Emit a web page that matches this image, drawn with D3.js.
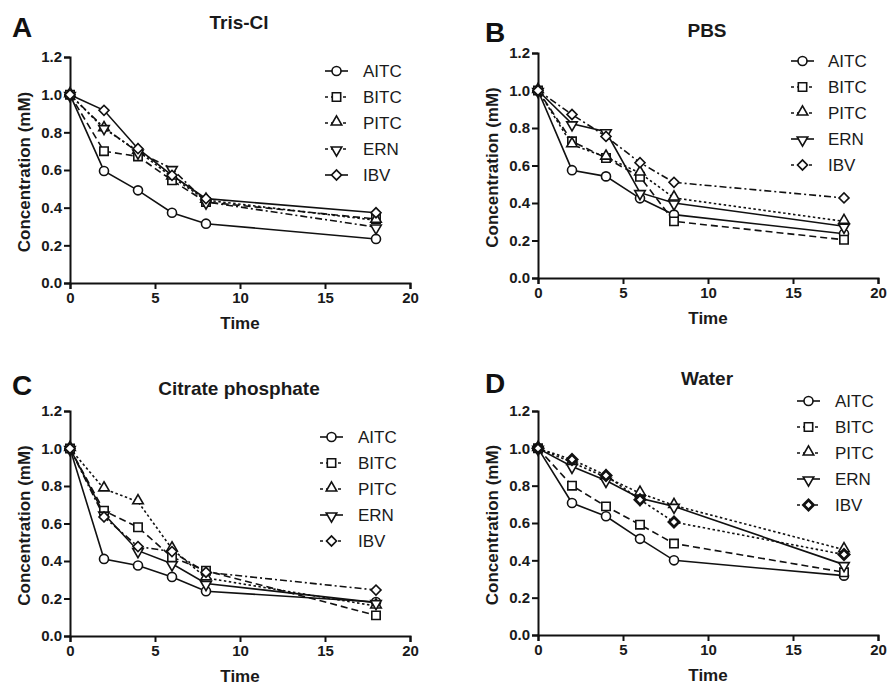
<!DOCTYPE html>
<html>
<head>
<meta charset="utf-8">
<script src="https://cdn.jsdelivr.net/npm/d3@7"></script>
<style>
  body { margin: 0; background: #fff; }
  svg { font-family: "Liberation Sans", Arial, sans-serif; }
</style>
</head>
<body>
<div class="chart"></div>
<script>
// time points (same for every panel)
var times = [0, 2, 4, 6, 8, 18];
var compounds = ["AITC", "BITC", "PITC", "ERN", "IBV"];
var xTicks = [0, 5, 10, 15, 20];
var yTicks = [0, 0.2, 0.4, 0.6, 0.8, 1.0, 1.2];

// values per panel, rows in the order of compounds
var trisCl = [
  [1, 0.595, 0.492, 0.373, 0.315, 0.234],
  [1, 0.70, 0.672, 0.545, 0.43, 0.34],
  [1, 0.82, 0.70, 0.563, 0.44, 0.333],
  [1, 0.825, 0.695, 0.607, 0.43, 0.297],
  [1, 0.917, 0.713, 0.572, 0.448, 0.373]
];
var pbs = [
  [1, 0.575, 0.542, 0.425, 0.338, 0.236],
  [1, 0.729, 0.64, 0.54, 0.302, 0.204],
  [1, 0.711, 0.645, 0.56, 0.427, 0.302],
  [1, 0.822, 0.78, 0.455, 0.40, 0.276],
  [1, 0.872, 0.755, 0.615, 0.51, 0.427]
];
var citrate = [
  [1, 0.411, 0.376, 0.315, 0.239, 0.181],
  [1, 0.668, 0.58, 0.42, 0.348, 0.11],
  [1, 0.785, 0.716, 0.465, 0.31, 0.16],
  [1, 0.65, 0.455, 0.385, 0.28, 0.178],
  [1, 0.635, 0.477, 0.45, 0.34, 0.245]
];
var water = [
  [1, 0.707, 0.636, 0.515, 0.40, 0.318],
  [1, 0.80, 0.689, 0.591, 0.49, 0.336],
  [1, 0.925, 0.845, 0.76, 0.694, 0.457],
  [1, 0.903, 0.828, 0.733, 0.689, 0.377],
  [1, 0.94, 0.855, 0.725, 0.605, 0.431]
];

var dashes = {
  solid: null,
  dash: "7,4",
  dot: "2.5,2.5",
  dashdot: "7,3,2,3"
};

var panels = [
  {letter: "A", title: "Tris-Cl", data: trisCl,
   x0: 70, x1: 410, y0: 283, y1: 57, titleY: 29, letterX: 12, letterY: 37,
   styles: ["solid", "dash", "dot", "dashdot", "solid"],
   leg: {x: 325, text: 363, y: 71}},
  {letter: "B", title: "PBS", data: pbs,
   x0: 538, x1: 878, y0: 278, y1: 53, titleY: 37, letterX: 485, letterY: 42,
   styles: ["solid", "dash", "dot", "solid", "dashdot"],
   leg: {x: 791, text: 828, y: 61}},
  {letter: "C", title: "Citrate phosphate", data: citrate,
   x0: 70, x1: 410, y0: 636, y1: 411, titleY: 395, letterX: 12, letterY: 395,
   styles: ["solid", "dash", "dot", "solid", "dashdot"],
   leg: {x: 320, text: 358, y: 437}},
  {letter: "D", title: "Water", data: water,
   x0: 538, x1: 878, y0: 635, y1: 411, titleY: 385, letterX: 485, letterY: 393,
   styles: ["solid", "dash", "dot", "solid", "dot"],
   leg: {x: 797, text: 835, y: 401}}
];

// circle, square, triangle, triangle down, diamond (square turned 45deg)
var symbols = [
  {gen: d3.symbol().type(d3.symbolCircle).size(64), rot: 0, dy: 0},
  {gen: d3.symbol().type(d3.symbolSquare).size(70), rot: 0, dy: 0},
  {gen: d3.symbol().type(d3.symbolTriangle).size(48), rot: 0, dy: -1},
  {gen: d3.symbol().type(d3.symbolTriangle).size(48), rot: 180, dy: 1},
  {gen: d3.symbol().type(d3.symbolSquare).size(50), rot: 45, dy: 0}
];

var svg = d3.select(".chart").append("svg")
    .attr("width", 888)
    .attr("height", 686);

function drawMarker(g, i, x, y, heavy) {
  var s = symbols[i];
  g.append("path")
    .attr("d", s.gen())
    .attr("transform", "translate(" + x + "," + (y + s.dy) + ") rotate(" + s.rot + ")")
    .attr("fill", "#fff")
    .attr("stroke", "#111")
    .attr("stroke-width", heavy ? 2.8 : 1.6);
}

panels.forEach(function(p, pi) {
  var g = svg.append("g");

  var xScale = d3.scaleLinear().domain([0, 20]).range([p.x0, p.x1]);
  var yScale = d3.scaleLinear().domain([0, 1.2]).range([p.y0, p.y1]);

  var xAxis = g.append("g")
      .attr("transform", "translate(0," + p.y0 + ")")
      .call(d3.axisBottom(xScale).tickValues(xTicks).tickSize(6).tickPadding(3));
  var yAxis = g.append("g")
      .attr("transform", "translate(" + p.x0 + ",0)")
      .call(d3.axisLeft(yScale).tickValues(yTicks).tickFormat(d3.format(".1f")).tickSize(6).tickPadding(2));

  [xAxis, yAxis].forEach(function(a) {
    a.select(".domain").attr("stroke", "#111").attr("stroke-width", 2);
    a.selectAll(".tick line").attr("stroke", "#111").attr("stroke-width", 2);
    a.selectAll(".tick text")
      .attr("fill", "#1a1a1a")
      .style("font-size", "15px")
      .style("font-weight", "bold");
  });

  // axis titles
  g.append("text")
    .attr("x", (p.x0 + p.x1) / 2)
    .attr("y", p.y0 + 46)
    .attr("text-anchor", "middle")
    .style("font-size", "17px").style("font-weight", "bold")
    .attr("fill", "#1a1a1a")
    .text("Time");
  g.append("text")
    .attr("transform", "translate(" + (p.x0 - 40) + "," + ((p.y0 + p.y1) / 2 + 2) + ") rotate(-90)")
    .attr("text-anchor", "middle")
    .style("font-size", "17px").style("font-weight", "bold")
    .attr("fill", "#1a1a1a")
    .text("Concentration (mM)");

  // title and panel letter
  g.append("text")
    .attr("x", (p.x0 + p.x1) / 2 - 1)
    .attr("y", p.titleY)
    .attr("text-anchor", "middle")
    .style("font-size", "19px").style("font-weight", "bold")
    .attr("fill", "#1a1a1a")
    .text(p.title);
  g.append("text")
    .attr("x", p.letterX)
    .attr("y", p.letterY)
    .style("font-size", "28px").style("font-weight", "bold")
    .attr("fill", "#111")
    .text(p.letter);

  var line = d3.line()
      .x(function(d, i) { return xScale(times[i]); })
      .y(function(d) { return yScale(d); });

  p.data.forEach(function(vals, si) {
    g.append("path")
      .attr("d", line(vals))
      .attr("fill", "none")
      .attr("stroke", "#111")
      .attr("stroke-width", 1.6)
      .attr("stroke-dasharray", dashes[p.styles[si]]);
  });

  p.data.forEach(function(vals, si) {
    var heavy = pi === 3 && si === 4;
    vals.forEach(function(v, i) {
      drawMarker(g, si, xScale(times[i]), yScale(v), heavy);
    });
  });

  // legend
  compounds.forEach(function(name, si) {
    var ly = p.leg.y + si * 26;
    g.append("line")
      .attr("x1", p.leg.x).attr("x2", p.leg.x + 23)
      .attr("y1", ly).attr("y2", ly)
      .attr("stroke", "#111").attr("stroke-width", 1.6)
      .attr("stroke-dasharray", dashes[p.styles[si]] ? "3,3" : null);
    drawMarker(g, si, p.leg.x + 11.5, ly, pi === 3 && si === 4);
    g.append("text")
      .attr("x", p.leg.text)
      .attr("y", ly + 6)
      .style("font-size", "17px")
      .attr("fill", "#1a1a1a")
      .text(name);
  });
});
</script>
</body>
</html>
